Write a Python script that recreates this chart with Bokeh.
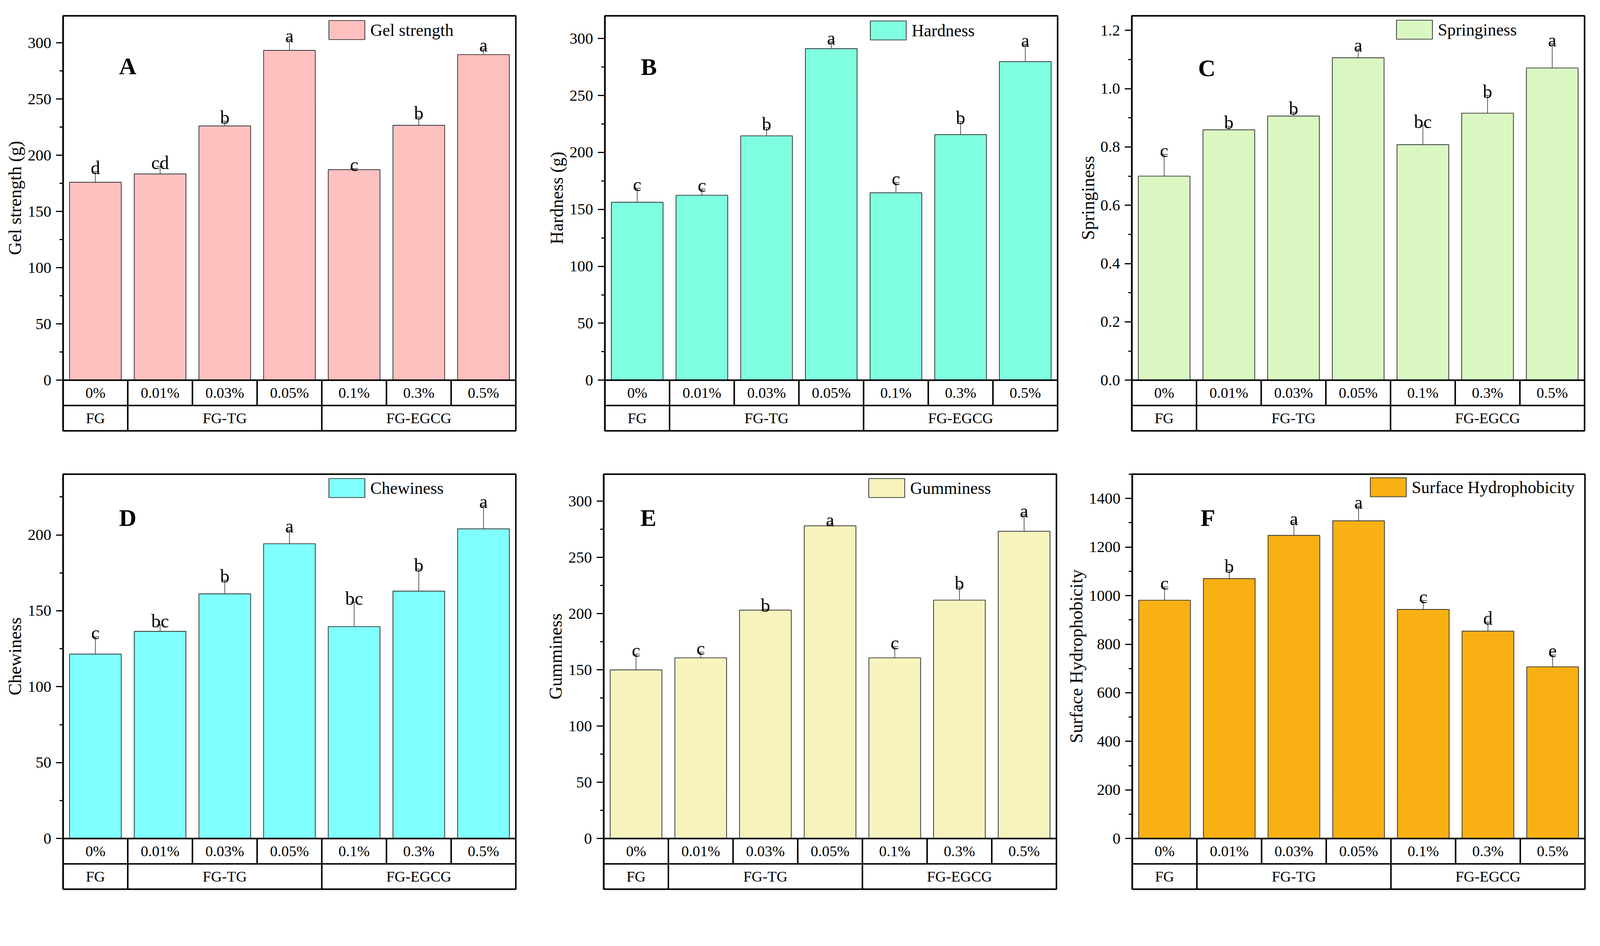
import math
from bokeh.plotting import figure
from bokeh.models import (Range1d, FixedTicker, Legend, LegendItem, Title,
                          Whisker, TeeHead, ColumnDataSource, PrintfTickFormatter)
from bokeh.layouts import row, column
from bokeh.embed import file_html
from bokeh.resources import INLINE
from bokeh.core.properties import value

# ---------------- data ----------------
concentrations = ["0%", "0.01%", "0.03%", "0.05%", "0.1%", "0.3%", "0.5%"]
groups = ["FG", "FG-TG", "FG-EGCG"]
group_sizes = [1, 3, 3]

gel_strength = [176.0, 183.4, 226.1, 293.3, 187.2, 226.6, 289.5]
gel_strength_err = [9.5, 6.7, 4.2, 9.5, 1.0, 7.4, 5.1]
gel_strength_sig = ["d", "cd", "b", "a", "c", "b", "a"]

hardness = [156.3, 162.4, 214.6, 291.2, 164.6, 215.7, 279.8]
hardness_err = [12.3, 5.5, 7.1, 5.8, 9.0, 11.4, 15.0]
hardness_sig = ["c", "c", "b", "a", "c", "b", "a"]

springiness = [0.700, 0.859, 0.906, 1.106, 0.808, 0.916, 1.071]
springiness_err = [0.075, 0.012, 0.013, 0.030, 0.066, 0.061, 0.083]
springiness_sig = ["c", "b", "b", "a", "bc", "b", "a"]

chewiness = [121.5, 136.5, 161.2, 194.2, 139.6, 163.0, 204.0]
chewiness_err = [11.4, 4.2, 9.0, 8.9, 16.1, 14.5, 15.4]
chewiness_sig = ["c", "bc", "b", "a", "bc", "b", "a"]

gumminess = [150.0, 160.7, 203.1, 278.1, 160.7, 212.0, 273.2]
gumminess_err = [14.0, 5.0, 0.8, 1.7, 10.0, 11.6, 14.7]
gumminess_sig = ["c", "c", "b", "a", "c", "b", "a"]

hydrophobicity = [981, 1070, 1248, 1308, 943, 854, 707]
hydrophobicity_err = [55, 35, 53, 60, 37, 37, 49]
hydrophobicity_sig = ["c", "b", "a", "a", "c", "d", "e"]

# ---------------- styling / geometry ----------------
FONT = "Liberation Serif"
K = 1 / 1.04          # page pixels -> css pixels

# Times-compatible advance widths (1/1000 em), used to centre the y titles
CHAR_W = {" ": 250, "(": 333, ")": 333, "G": 722, "H": 722, "S": 556, "C": 667,
          "a": 444, "b": 500, "c": 444, "d": 500, "e": 444, "f": 333, "g": 500,
          "h": 500, "i": 278, "l": 278, "m": 778, "n": 500, "o": 500, "p": 500,
          "r": 333, "s": 389, "t": 278, "u": 500, "w": 722, "y": 500}


def px(v):
    return int(round(v * K))


def fs(v):
    return "%.1fpx" % (v * K)


def text_em(s):
    return sum(CHAR_W.get(ch, 500) for ch in s) / 1000.0


FRAME_W = px(1205)
BAR_H_REF, TBL_H_REF = 971, 135
FRAME_H = px(BAR_H_REF + TBL_H_REF)
TBL_H = FRAME_H * TBL_H_REF / (BAR_H_REF + TBL_H_REF)
BAR_H = FRAME_H - TBL_H
TITLE_PX = 48 * K

panels = [
    dict(tag="A", ylabel="Gel strength (g)", name="Gel strength", vals=gel_strength,
         errs=gel_strength_err, sig=gel_strength_sig, color="#FFC0C0", ymax=324, step=50,
         fmt="%d", tag_x=1.0, tag_f=0.862, leg_x=708, leg_top=12,
         left=161, right=57, top=40, bottom=43),
    dict(tag="B", ylabel="Hardness (g)", name="Hardness", vals=hardness,
         errs=hardness_err, sig=hardness_sig, color="#80FFE0", ymax=320, step=50,
         fmt="%d", tag_x=0.68, tag_f=0.86, leg_x=707, leg_top=13,
         left=171, right=16, top=40, bottom=43),
    dict(tag="C", ylabel="Springiness", name="Springiness", vals=springiness,
         errs=springiness_err, sig=springiness_sig, color="#DAF7C2", ymax=1.25, step=0.2,
         fmt="%.1f", tag_x=1.16, tag_f=0.857, leg_x=705, leg_top=11,
         left=174, right=18, top=40, bottom=43),
    dict(tag="D", ylabel="Chewiness", name="Chewiness", vals=chewiness,
         errs=chewiness_err, sig=chewiness_sig, color="#80FFFF", ymax=240, step=50,
         fmt="%d", tag_x=1.0, tag_f=0.88, leg_x=708, leg_top=11,
         left=161, right=57, top=68, bottom=18),
    dict(tag="E", ylabel="Gumminess", name="Gumminess", vals=gumminess,
         errs=gumminess_err, sig=gumminess_sig, color="#F7F3BD", ymax=324, step=50,
         fmt="%d", tag_x=0.69, tag_f=0.88, leg_x=706, leg_top=11,
         left=168, right=19, top=68, bottom=18),
    dict(tag="F", ylabel="Surface Hydrophobicity", name="Surface Hydrophobicity",
         vals=hydrophobicity, errs=hydrophobicity_err, sig=hydrophobicity_sig,
         color="#F8B013", ymax=1500, step=200, fmt="%d", tag_x=1.17, tag_f=0.88,
         leg_x=634, leg_top=9, left=175, right=18, top=68, bottom=18),
]


def make_panel(cfg):
    n = len(concentrations)
    ymax = cfg["ymax"]
    tbl = ymax * TBL_H / BAR_H
    rowh = tbl / 2.0
    p = figure(frame_width=FRAME_W, frame_height=FRAME_H,
               x_range=Range1d(0, n), y_range=Range1d(-tbl, ymax),
               output_backend="svg", toolbar_location=None,
               min_border_left=cfg["left"], min_border_right=cfg["right"],
               min_border_top=cfg["top"], min_border_bottom=cfg["bottom"])
    p.xaxis.visible = False
    p.grid.visible = False
    p.background_fill_color = "white"
    p.border_fill_color = "white"
    p.outline_line_color = "black"
    p.outline_line_width = 4 * K
    p.outline_line_alpha = 1.0

    vals, errs = cfg["vals"], cfg["errs"]
    xs = [i + 0.5 for i in range(n)]
    src = ColumnDataSource(dict(
        x=xs, top=vals,
        upper=[v + e for v, e in zip(vals, errs)],
        lower=[v - e for v, e in zip(vals, errs)],
        sig=cfg["sig"]))

    bars = p.vbar(x="x", top="top", bottom=0, width=0.8, source=src,
                  fill_color=cfg["color"], line_color="#333333", line_width=2 * K)

    wcol = "#555555"
    p.add_layout(Whisker(source=src, base="x", upper="upper", lower="lower",
                         line_color=wcol, line_width=2 * K,
                         upper_head=TeeHead(size=px(20), line_color=wcol, line_width=2 * K),
                         lower_head=TeeHead(size=px(20), line_color=wcol, line_width=2 * K)))

    p.text(x="x", y="upper", text="sig", source=src, text_font=value(FONT),
           text_font_size=fs(50), text_align="center", text_baseline="alphabetic",
           y_offset=-px(10), text_color="black")

    # table below the bars
    bx = list(range(1, n))
    gb = []
    acc = 0
    for s in group_sizes[:-1]:
        acc += s
        gb.append(acc)
    x0 = [0, 0] + bx + gb
    x1 = [n, n] + bx + gb
    y0 = [0, -rowh] + [-rowh] * len(bx) + [-tbl] * len(gb)
    y1 = [0, -rowh] + [0] * len(bx) + [-rowh] * len(gb)
    p.segment(x0=x0, y0=y0, x1=x1, y1=y1, line_color="black", line_width=4 * K)

    p.text(x=xs, y=[-rowh / 2] * n, text=concentrations, text_font=value(FONT),
           text_font_size=fs(40), text_align="center", text_baseline="middle",
           text_color="black")
    gx = []
    start = 0
    for s in group_sizes:
        gx.append(start + s / 2.0)
        start += s
    p.text(x=gx, y=[-1.5 * rowh] * len(groups), text=groups, text_font=value(FONT),
           text_font_size=fs(40), text_align="center", text_baseline="middle",
           text_color="black")

    # panel tag
    p.text(x=[cfg["tag_x"]], y=[cfg["tag_f"] * ymax], text=[cfg["tag"]],
           text_font=value(FONT), text_font_size=fs(64), text_font_style="bold",
           text_align="center", text_baseline="middle", text_color="black")

    # y axis
    step = cfg["step"]
    nmaj = int(math.floor(ymax / step + 1e-9))
    major = [round(i * step, 6) for i in range(nmaj + 1)]
    minor = [round(m + step / 2, 6) for m in major if m + step / 2 <= ymax + 1e-9]
    ax = p.yaxis[0]
    ax.ticker = FixedTicker(ticks=major, minor_ticks=minor)
    ax.formatter = PrintfTickFormatter(format=cfg["fmt"])
    ax.axis_line_color = "black"
    ax.axis_line_width = 4 * K
    ax.major_tick_line_color = "black"
    ax.minor_tick_line_color = "black"
    ax.major_tick_line_width = 3 * K
    ax.minor_tick_line_width = 3 * K
    ax.major_tick_out = px(19)
    ax.major_tick_in = 0
    ax.minor_tick_out = px(9)
    ax.minor_tick_in = 0
    ax.major_label_text_font = FONT
    ax.major_label_text_font_size = fs(42)
    ax.major_label_text_color = "black"
    ax.major_label_standoff = px(12)

    # y-axis title, centred on the bar area (not on the table below it)
    tlen = text_em(cfg["ylabel"]) * TITLE_PX
    off = TBL_H + BAR_H / 2.0 - tlen / 2.0
    p.add_layout(Title(text=cfg["ylabel"], align="left", offset=off,
                       text_font=FONT, text_font_size="%.1fpx" % TITLE_PX,
                       text_font_style="normal", text_color="black", standoff=px(8)),
                 "left")

    # legend (area glyphs are drawn inset by 10 % of the glyph box)
    gw, gh = 96 * K / 0.8, 51 * K / 0.8
    box_top = cfg["leg_top"] * K - 0.1 * gh
    leg = Legend(items=[LegendItem(label=cfg["name"], renderers=[bars])],
                 location=(int(round(cfg["leg_x"] * K - 0.1 * gw)),
                           int(round(FRAME_H - box_top - gh))),
                 label_text_font=FONT, label_text_font_size=fs(45),
                 label_text_color="black",
                 glyph_width=int(round(gw)), glyph_height=int(round(gh)),
                 label_height=int(round(gh)), label_standoff=px(3),
                 padding=0, margin=0, spacing=0,
                 border_line_alpha=0, background_fill_alpha=0)
    p.add_layout(leg)
    return p


figs = [make_panel(c) for c in panels]
layout = column(row(*figs[:3]), row(*figs[3:]))

with open("out.html", "w") as f:
    f.write(file_html(layout, INLINE, "Gel properties"))
